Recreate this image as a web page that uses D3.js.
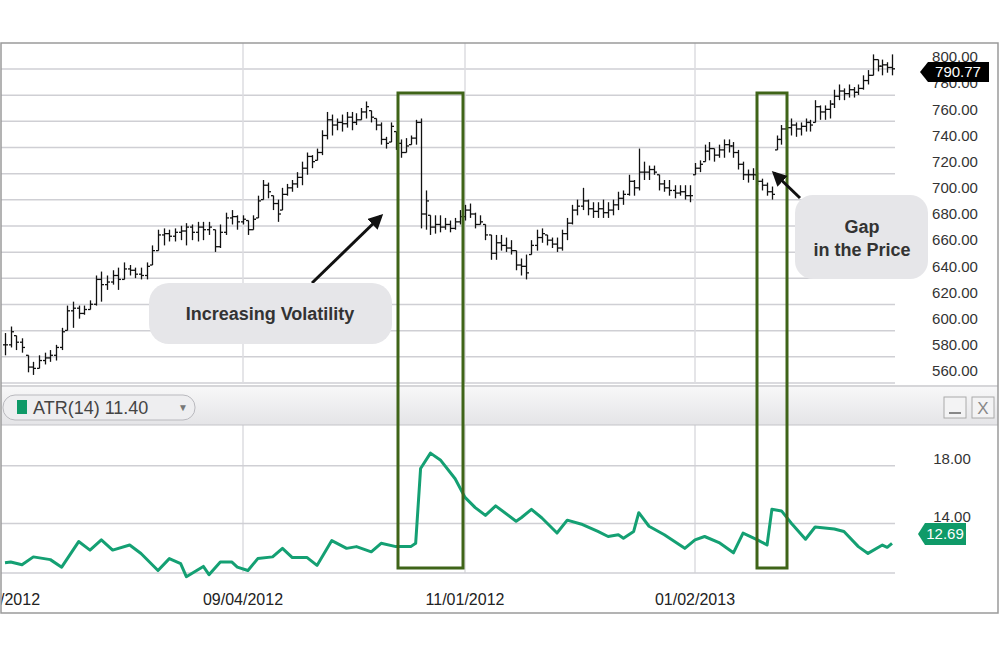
<!DOCTYPE html>
<html>
<head>
<meta charset="utf-8">
<script src="https://cdn.jsdelivr.net/npm/d3@7"></script>
<style>
  body { margin: 0; background: #fff; }
  text { font-family: "Liberation Sans", Arial, sans-serif; }
</style>
</head>
<body>
<svg id="chart" width="1000" height="657"></svg>
<script>
// Price bars (high / low / close)
const highs = [589,594,587,585,572,567,572,574,576,580,593,610,613,610,610,614,633,636,633,637,639,643,641,639,639,643,656,668,669,668,669,671,673,672,674,674,674,668,672,681,683,679,679,675,679,694,706,704,694,691,700,703,706,712,720,727,725,730,744,758,756,753,756,758,758,757,761,766,759,753,750,739,750,743,737,738,740,752,753,698,679,679,679,677,675,677,683,687,688,681,679,672,664,664,664,662,660,652,646,649,660,668,669,664,662,662,668,677,687,691,700,691,689,689,691,689,691,697,698,710,706,730,720,717,717,710,706,706,702,702,702,702,719,721,733,735,730,733,737,737,735,729,720,714,715,712,707,704,701,740,748,752,753,750,750,753,752,767,763,763,767,775,779,776,779,777,779,786,790,802,798,798,796,802]
const lows = [572,578,576,574,559,557,562,565,567,568,576,591,593,600,603,607,610,613,622,626,622,630,633,631,630,630,641,652,656,659,659,660,656,660,659,660,664,651,654,664,672,668,672,664,668,677,691,692,683,674,683,694,697,700,702,710,715,721,725,737,740,744,743,746,744,748,752,753,750,744,733,730,735,729,723,727,733,733,669,668,664,665,666,668,666,668,672,675,677,669,672,660,645,645,652,651,649,637,633,630,649,652,658,656,654,651,652,660,672,679,683,679,677,677,677,677,679,683,687,694,694,698,706,706,710,698,697,694,692,694,691,689,710,712,720,721,720,723,723,727,723,714,706,704,706,702,698,694,691,729,733,737,740,739,740,743,743,750,752,752,753,761,767,767,769,769,771,775,779,786,789,786,788,786]
const closes = [580,590,582,578,563,562,568,570,572,578,590,606,608,604,607,611,630,626,628,633,630,638,637,634,633,640,652,664,665,663,666,667,670,666,670,668,670,655,666,677,678,674,676,668,676,690,702,697,688,680,695,700,703,708,715,724,720,727,740,752,748,750,749,754,750,752,758,762,754,748,737,734,747,734,727,732,738,750,680,690,670,672,670,672,669,674,678,683,680,672,674,664,650,658,656,654,652,641,640,635,656,662,665,660,657,654,665,673,683,686,690,684,682,684,681,683,687,692,695,705,700,712,712,714,712,703,700,698,696,697,694,694,715,718,728,730,725,729,733,732,727,718,710,710,710,705,702,697,695,737,745,746,748,745,747,750,748,762,758,760,764,770,774,772,775,773,776,782,786,798,793,794,792,791]

// ATR(14) line: bar index / value
const atrIdx = [0,1,3,5,8,10,13,15,17,19,22,24,27,29,31,32,35,36,38,40,41,43,45,48,50,52,55,57,60,63,65,68,70,73,76,77,78,80,82,85,87,89,91,93,97,98,100,102,105,107,110,113,115,117,118,120,121,123,126,130,132,134,137,140,142,145,147,148,150,152,155,157,161,163,166,168,171,172,173]
const atrVal = [11.29,11.34,11.15,11.69,11.5,10.98,12.75,12.16,12.87,12.16,12.51,11.92,10.75,11.57,11.22,10.32,11.03,10.46,11.34,11.34,10.98,10.75,11.57,11.69,12.28,11.64,11.64,11.1,12.82,12.28,12.4,12.04,12.63,12.4,12.4,12.63,17.81,18.87,18.4,17.1,15.81,15.1,14.56,15.22,14.16,14.4,14.98,14.4,13.34,14.23,13.93,13.45,13.1,13.22,12.98,13.45,14.75,13.81,13.22,12.28,12.87,13.1,12.68,11.97,13.34,12.87,12.51,14.98,14.87,14.04,12.91,13.76,13.62,13.45,12.4,11.93,12.51,12.35,12.63]

const priceTicks = [800,780,760,740,720,700,680,660,640,620,600,580,560]
const atrTicks = [18, 14]
const dateIdx = [0, 42, 87, 132]
const dateLabels = ["07/05/2012", "09/04/2012", "11/01/2012", "01/02/2013"]
const lastPrice = 790.77
const lastAtr = 12.69
const legendAtr = "11.40"

const svg = d3.select("#chart")
const plotRight = 895

// index -> x (piecewise to follow the uneven trading calendar)
const x = d3.scaleLinear()
  .domain([0, 42, 87, 132, 173])
  .range([5, 243, 465, 695, 892])

const y = d3.scaleLinear().domain([560, 800]).range([371, 57])
const gridShift = 12 // grid lines sit a bit below their labels
const ya = d3.scaleLinear().domain([14, 18]).range([523.5, 465.7])

// clip everything to outer frame
svg.append("clipPath").attr("id", "frame")
  .append("rect").attr("x", 1).attr("y", 43).attr("width", 997).attr("height", 570)

const root = svg.append("g").attr("clip-path", "url(#frame)")

// Price grid
root.append("g").selectAll("line")
  .data(priceTicks)
  .join("line")
    .attr("x1", 0).attr("x2", plotRight)
    .attr("y1", d => y(d) + gridShift).attr("y2", d => y(d) + gridShift)
    .attr("stroke", "#cfcfd4").attr("stroke-width", 1.5)

// Vertical date grid (both panels)
root.append("g").selectAll("line")
  .data(dateIdx.slice(1))
  .join("line")
    .attr("x1", d => x(d)).attr("x2", d => x(d))
    .attr("y1", 43).attr("y2", 383)
    .attr("stroke", "#dcdce0").attr("stroke-width", 1.5)
root.append("g").selectAll("line")
  .data(dateIdx.slice(1))
  .join("line")
    .attr("x1", d => x(d)).attr("x2", d => x(d))
    .attr("y1", 425).attr("y2", 573)
    .attr("stroke", "#dcdce0").attr("stroke-width", 1.5)

// Price labels
root.append("g").selectAll("text")
  .data(priceTicks)
  .join("text")
    .attr("x", 955).attr("y", d => y(d))
    .attr("dy", "0.35em")
    .attr("text-anchor", "middle")
    .attr("font-size", 15)
    .attr("fill", "#333")
    .text(d => d.toFixed(2))

// OHLC bars
const bars = root.append("g").attr("stroke", "#111").attr("stroke-width", 1.3)
highs.forEach((h, i) => {
  const cx = Math.round(x(i)) + 0.5
  const op = i === 0 ? closes[0] : Math.max(lows[i], Math.min(highs[i], closes[i - 1]))
  bars.append("line").attr("x1", cx).attr("x2", cx).attr("y1", y(h)).attr("y2", y(lows[i]))
  bars.append("line").attr("x1", cx - 2.5).attr("x2", cx).attr("y1", y(op)).attr("y2", y(op))
  bars.append("line").attr("x1", cx).attr("x2", cx + 2.5).attr("y1", y(closes[i])).attr("y2", y(closes[i]))
})

// last price tag
const tp = y(lastPrice) + 3
root.append("path")
  .attr("d", `M920,${tp} L928,${tp - 10} L989,${tp - 10} L989,${tp + 10} L928,${tp + 10} Z`)
  .attr("fill", "#000")
root.append("text").attr("x", 958).attr("y", tp).attr("dy", "0.36em")
  .attr("text-anchor", "middle").attr("font-size", 15).attr("fill", "#fff").text(lastPrice.toFixed(2))

// Panel separator + ATR header
root.append("line").attr("x1", 0).attr("x2", 1000).attr("y1", 386).attr("y2", 386)
  .attr("stroke", "#c8c8cc").attr("stroke-width", 1.5)
const grad = svg.append("defs").append("linearGradient").attr("id", "hdr")
  .attr("x1", 0).attr("x2", 0).attr("y1", 0).attr("y2", 1)
grad.append("stop").attr("offset", "0%").attr("stop-color", "#f7f7f8")
grad.append("stop").attr("offset", "100%").attr("stop-color", "#e4e4e7")
root.append("rect").attr("x", 0).attr("y", 387).attr("width", 1000).attr("height", 38).attr("fill", "url(#hdr)")
root.append("line").attr("x1", 0).attr("x2", 1000).attr("y1", 425).attr("y2", 425)
  .attr("stroke", "#c4c4c8")

root.append("rect").attr("x", 3).attr("y", 395).attr("width", 192).attr("height", 25).attr("rx", 12)
  .attr("fill", "#eeeef0").attr("stroke", "#b9b9be")
root.append("rect").attr("x", 17).attr("y", 400).attr("width", 10).attr("height", 14).attr("fill", "#0f9a68")
root.append("text").attr("x", 33).attr("y", 408).attr("dy", "0.36em")
  .attr("font-size", 18).attr("fill", "#444").text(`ATR(14) ${legendAtr}`)
root.append("text").attr("x", 178).attr("y", 407).attr("dy", "0.36em")
  .attr("font-size", 10).attr("fill", "#777").text("▼")

// window buttons
root.append("rect").attr("x", 944).attr("y", 397).attr("width", 22).attr("height", 21).attr("fill", "#f3f3f4").attr("stroke", "#aaa")
root.append("line").attr("x1", 949).attr("x2", 961).attr("y1", 413).attr("y2", 413).attr("stroke", "#888").attr("stroke-width", 2)
root.append("rect").attr("x", 972).attr("y", 397).attr("width", 22).attr("height", 21).attr("fill", "#f3f3f4").attr("stroke", "#aaa")
root.append("text").attr("x", 983).attr("y", 408).attr("dy", "0.36em").attr("text-anchor", "middle")
  .attr("font-size", 17).attr("fill", "#888").text("X")

// ATR grid
root.append("g").selectAll("line")
  .data(atrTicks)
  .join("line")
    .attr("x1", 0).attr("x2", plotRight)
    .attr("y1", d => ya(d)).attr("y2", d => ya(d))
    .attr("stroke", "#cfcfd4").attr("stroke-width", 1.5)
root.append("line").attr("x1", 0).attr("x2", plotRight).attr("y1", 573).attr("y2", 573)
  .attr("stroke", "#cfcfd4").attr("stroke-width", 1.5)
root.append("g").selectAll("text")
  .data(atrTicks)
  .join("text")
    .attr("x", 952).attr("y", d => ya(d) - 7)
    .attr("dy", "0.35em").attr("text-anchor", "middle")
    .attr("font-size", 15).attr("fill", "#333")
    .text(d => d.toFixed(2))

// ATR line
root.append("path")
  .datum(atrIdx.map((d, i) => [d, atrVal[i]]))
  .attr("d", d3.line().x(d => x(d[0])).y(d => ya(d[1])))
  .attr("fill", "none").attr("stroke", "#14a073").attr("stroke-width", 3)
  .attr("stroke-linejoin", "round")

// ATR tag
const ta = 534
root.append("path")
  .attr("d", `M918,${ta} L925,${ta - 11} L966,${ta - 11} L966,${ta + 11} L925,${ta + 11} Z`)
  .attr("fill", "#0f9a68")
root.append("text").attr("x", 945).attr("y", ta).attr("dy", "0.36em")
  .attr("text-anchor", "middle").attr("font-size", 15).attr("fill", "#fff").text(lastAtr.toFixed(2))

// Date labels
root.append("g").selectAll("text")
  .data(dateIdx)
  .join("text")
    .attr("x", (d, i) => i === 0 ? 0 : x(d)).attr("y", 599)
    .attr("dy", "0.35em").attr("text-anchor", "middle")
    .attr("font-size", 16).attr("fill", "#222")
    .text((d, i) => dateLabels[i])

// Highlight boxes
root.append("g").selectAll("rect")
  .data([[398, 463], [757, 787]])
  .join("rect")
    .attr("x", d => d[0]).attr("y", 93)
    .attr("width", d => d[1] - d[0]).attr("height", 475)
    .attr("fill", "none").attr("stroke", "#3f6418").attr("stroke-width", 3)

// Annotations
svg.append("defs").append("marker").attr("id", "ah")
  .attr("viewBox", "0 0 10 10").attr("refX", 8).attr("refY", 5)
  .attr("markerWidth", 5).attr("markerHeight", 5).attr("orient", "auto")
  .append("path").attr("d", "M0,0 L10,5 L0,10 Z").attr("fill", "#111")

root.append("line").attr("x1", 312).attr("y1", 283).attr("x2", 381).attr("y2", 216)
  .attr("stroke", "#111").attr("stroke-width", 3).attr("marker-end", "url(#ah)")
root.append("rect").attr("x", 149).attr("y", 283).attr("width", 243).attr("height", 61).attr("rx", 20)
  .attr("fill", "#e6e6e9")
root.append("text").attr("x", 270).attr("y", 314).attr("dy", "0.35em").attr("text-anchor", "middle")
  .attr("font-family", "Inter, sans-serif").attr("font-weight", 700).attr("font-size", 18)
  .attr("fill", "#333").text("Increasing Volatility")

root.append("line").attr("x1", 800).attr("y1", 198).attr("x2", 774).attr("y2", 173)
  .attr("stroke", "#111").attr("stroke-width", 3).attr("marker-end", "url(#ah)")
root.append("rect").attr("x", 795).attr("y", 195).attr("width", 133).attr("height", 84).attr("rx", 18)
  .attr("fill", "#e6e6e9")
root.append("text").attr("x", 862).attr("y", 227).attr("dy", "0.35em").attr("text-anchor", "middle")
  .attr("font-family", "Inter, sans-serif").attr("font-weight", 700).attr("font-size", 18)
  .attr("fill", "#333").text("Gap")
root.append("text").attr("x", 862).attr("y", 250).attr("dy", "0.35em").attr("text-anchor", "middle")
  .attr("font-family", "Inter, sans-serif").attr("font-weight", 700).attr("font-size", 18)
  .attr("fill", "#333").text("in the Price")

// outer frame
svg.append("rect").attr("x", 1).attr("y", 43).attr("width", 997).attr("height", 570)
  .attr("fill", "none").attr("stroke", "#9a9a9a").attr("stroke-width", 1.5)
</script>
</body>
</html>
